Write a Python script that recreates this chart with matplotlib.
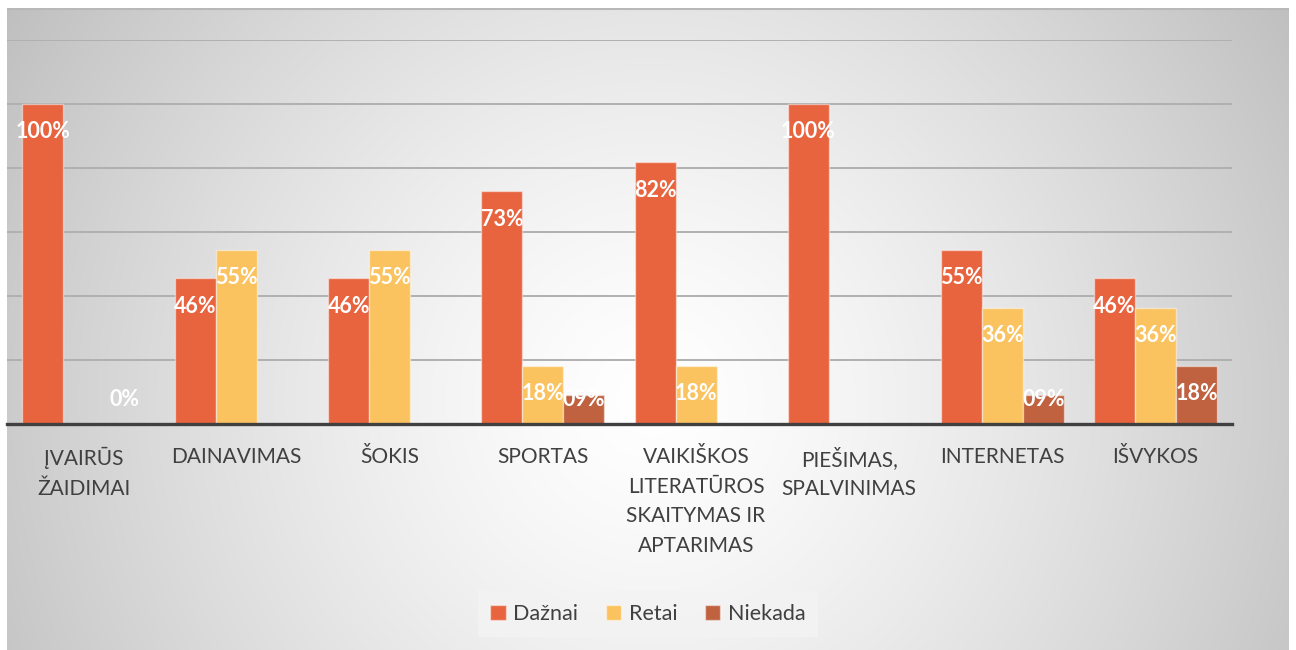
import numpy as np
import matplotlib
matplotlib.use("Agg")
import matplotlib.pyplot as plt
from matplotlib.patches import Patch

plt.rcParams['font.family'] = ['Lato', 'DejaVu Sans']

categories = ["ĮVAIRŪS\nŽAIDIMAI", "DAINAVIMAS", "ŠOKIS", "SPORTAS",
              "VAIKIŠKOS\nLITERATŪROS\nSKAITYMAS IR\nAPTARIMAS",
              "PIEŠIMAS,\nSPALVINIMAS", "INTERNETAS", "IŠVYKOS"]
series_names = ["Dažnai", "Retai", "Niekada"]
nan = np.nan
daznai = [100, 45.5, 45.5, 72.7, 81.8, 100, 54.5, 45.5]
retai = [nan, 54.5, 54.5, 18.2, 18.2, nan, 36.4, 36.4]
niekada = [0, nan, nan, 9.1, nan, nan, 9.1, 18.2]
daznai_labels = ["100%", "46%", "46%", "73%", "82%", "100%", "55%", "46%"]
retai_labels = ["", "55%", "55%", "18%", "18%", "", "36%", "36%"]
niekada_labels = ["0%", "", "", "09%", "", "", "09%", "18%"]

colors = ["#E8643F", "#FBC360", "#C0613F"]
text_color = "#404040"

W, H = 1296, 650
fig = plt.figure(figsize=(W / 100, H / 100), dpi=100)
fig.patch.set_facecolor("white")

# chart-area background with radial gradient
bx0, by0, bx1, by1 = 7, 8, 1289, 650
bg = fig.add_axes([bx0 / W, 1 - by1 / H, (bx1 - bx0) / W, (by1 - by0) / H])
yy, xx = np.mgrid[by0:by1, bx0:bx1]
cx, cy = 650, 400
d = np.sqrt((xx - cx) ** 2 + (yy - cy) ** 2)
d = d / d.max()
g = 1 - 0.25 * d ** 1.35
img = np.dstack([g, g, g])
bg.imshow(img, aspect="auto", extent=[0, 1, 0, 1], interpolation="bilinear")
bg.set_axis_off()
bg.plot([0, 1], [0.998, 0.998], color="#b8b8b8", lw=1.5, transform=bg.transAxes)

# main axes
ax_left, ax_right, ax_top, ax_bottom = 7, 1232, 40, 424
ax = fig.add_axes([ax_left / W, 1 - ax_bottom / H, (ax_right - ax_left) / W, (ax_bottom - ax_top) / H])
ax.patch.set_alpha(0)
ax.set_xlim(-0.5, len(categories) - 0.5)
ax.set_ylim(0, 120)

x = np.arange(len(categories))
bw = 41 / 153.1
offsets = [-bw, 0, bw]
all_vals = [daznai, retai, niekada]
all_labels = [daznai_labels, retai_labels, niekada_labels]
for vals, labs, off, col in zip(all_vals, all_labels, offsets, colors):
    v = np.array(vals, dtype=float)
    ax.bar(x + off, np.nan_to_num(v), width=bw, color=col,
           edgecolor=(1, 1, 1, 0.45), linewidth=1.0, zorder=3)
    for xi, vi, lab in zip(x, v, labs):
        if lab:
            ypos = max(vi - 8.75, 7.5)
            ax.text(xi + off, ypos, lab, ha="center", va="center", color="white",
                    fontsize=15.5, fontweight="bold", zorder=5)

ax.set_yticks([20, 40, 60, 80, 100, 120])
ax.yaxis.grid(True, color="#b0b0b0", linewidth=1.4, zorder=0)
ax.tick_params(axis="y", left=False, labelleft=False)
ax.set_xticks(x)
ax.set_xticklabels(categories, fontsize=15, color=text_color, linespacing=1.6)
ax.tick_params(axis="x", bottom=False, pad=13)
for s in ["left", "right", "top"]:
    ax.spines[s].set_visible(False)
ax.spines["bottom"].set_color("#404040")
ax.spines["bottom"].set_linewidth(2.4)
ax.spines["bottom"].set_zorder(4)

handles = [Patch(facecolor=c, edgecolor=(1, 1, 1, 0.45)) for c in colors]
leg = fig.legend(handles, series_names, loc="center", bbox_to_anchor=(648 / W, 1 - 614 / H),
                 ncol=3, frameon=True, fontsize=15.5, handlelength=0.7, handleheight=0.7,
                 handletextpad=0.35, columnspacing=1.3, borderpad=0.6, borderaxespad=0)
leg.get_frame().set_facecolor("#f3f3f3")
leg.get_frame().set_edgecolor("none")
leg.get_frame().set_alpha(0.9)
leg.get_frame().set_boxstyle("square", pad=0)
for t in leg.get_texts():
    t.set_color(text_color)

fig.savefig("out.png", dpi=100)
